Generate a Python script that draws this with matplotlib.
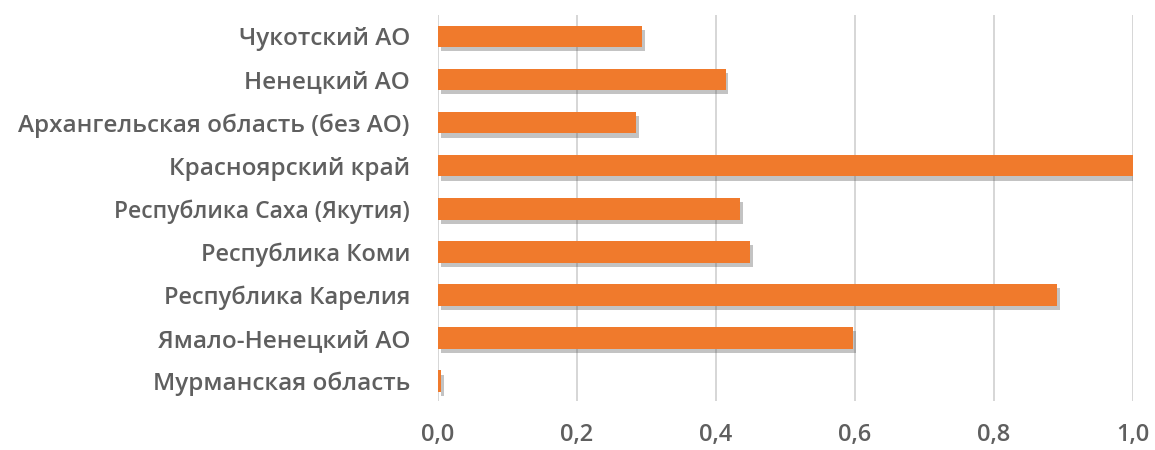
import matplotlib.pyplot as plt
import matplotlib.patheffects as pe

regions = ['Мурманская область', 'Ямало-Ненецкий АО', 'Республика Карелия',
           'Республика Коми', 'Республика Саха (Якутия)', 'Красноярский край',
           'Архангельская область (без АО)', 'Ненецкий АО', 'Чукотский АО']
values = [0.005, 0.597, 0.891, 0.449, 0.435, 1.0, 0.285, 0.414, 0.294]
ticks = [0.0, 0.2, 0.4, 0.6, 0.8, 1.0]
tick_labels = ['0,0', '0,2', '0,4', '0,6', '0,8', '1,0']

plt.rcParams['font.family'] = ['Open Sans', 'DejaVu Sans']

fig = plt.figure(figsize=(11.55, 4.5), dpi=100)
ax = fig.add_axes([0.379, 0.11, 0.602, 0.857])

bars = ax.barh(range(len(regions)), values, height=0.5, color='#F07A2C', zorder=3)
for b in bars:
    b.set_path_effects([pe.SimplePatchShadow(offset=(2, -3), shadow_rgbFace='#555555', alpha=0.35),
                        pe.Normal()])

ax.set_xlim(0, 1.0)
ax.set_ylim(-0.45, 8.5)
ax.set_xticks(ticks)
ax.set_xticklabels(tick_labels)
ax.set_yticks(range(len(regions)))
ax.set_yticklabels(regions)
sizes = [17.5, 17.5, 17, 17, 16.5, 17.5, 17.5, 17.5, 17.5]
for lab, s in zip(ax.get_yticklabels(), sizes):
    lab.set_fontsize(s)
    lab.set_color('#5f5f5f')
    lab.set_fontweight('semibold')
for lab in ax.get_xticklabels():
    lab.set_fontsize(17)
    lab.set_color('#5f5f5f')
    lab.set_fontweight('semibold')

ax.grid(axis='x', color='#d0d0d0', linewidth=1.2, zorder=0)
ax.tick_params(length=0, pad=20)
ax.tick_params(axis='x', pad=16)
for s in ax.spines.values():
    s.set_visible(False)

fig.savefig('out.png')
